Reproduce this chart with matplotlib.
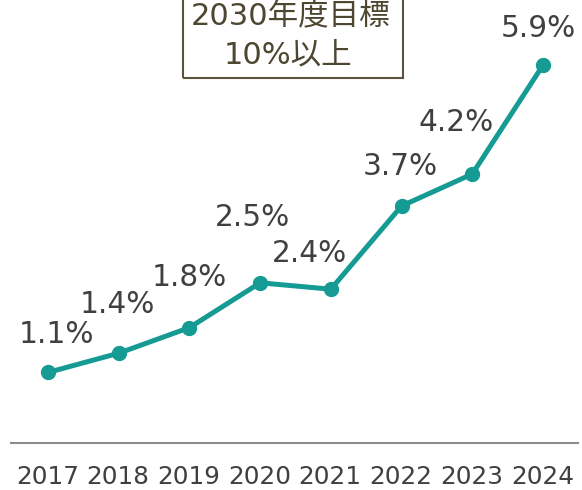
import matplotlib
matplotlib.use("Agg")
import matplotlib.pyplot as plt
from matplotlib.patches import Rectangle

# Data
years = ["2017", "2018", "2019", "2020", "2021", "2022", "2023", "2024"]
ratio = [1.1, 1.4, 1.8, 2.5, 2.4, 3.7, 4.2, 5.9]
value_labels = [f"{v:.1f}%" for v in ratio]
target_lines = ["2030年度目標", "10%以上"]

# Label offsets (points) relative to each marker
label_offsets = [(6.1, 20.9), (-1.1, 28.8), (0.0, 30.2), (-5.4, 41.0),
                 (-15.1, 19.4), (-0.7, 22.3), (-11.5, 31.0), (-3.2, 20.2)]

TEAL = "#169b94"
TEXT = "#404040"
OLIVE = "#5b5440"
OLIVE_TEXT = "#4d4630"

plt.rcParams["font.family"] = ["DejaVu Sans", "Noto Sans CJK JP"]

fig = plt.figure(figsize=(5.82, 4.90), dpi=100)
ax = fig.add_axes([0, 0, 1, 1])
ax.set_axis_off()

x = list(range(len(years)))
ax.plot(x, ratio, color=TEAL, lw=3.6, marker="o", markersize=10,
        solid_capstyle="round", solid_joinstyle="round", zorder=3)

ax.set_xlim(-0.679, 7.552)
ax.set_ylim(-0.7375, 6.919)

# Baseline
ax.axhline(0, xmin=11 / 582, xmax=578 / 582, color="#8c8c8c", lw=1.5, zorder=1)

# Value labels
for xi, yi, lab, (dx, dy) in zip(x, ratio, value_labels, label_offsets):
    ax.annotate(lab, (xi, yi), xytext=(dx, dy), textcoords="offset points",
                ha="center", va="baseline", fontsize=21.3, color=TEXT)

# Year labels under the baseline
for xi, yr in zip(x, years):
    ax.annotate(yr, (xi, 0), xytext=(-0.5, -30.0), textcoords="offset points",
                ha="center", va="baseline", fontsize=17.8, color=TEXT)

# Target box
box = Rectangle((183 / 582, 1 - 78 / 490), (403 - 183) / 582, 90 / 490,
                transform=ax.transAxes, fill=False, edgecolor=OLIVE, lw=1.5,
                zorder=4, clip_on=False)
ax.add_patch(box)
ax.text(291 / 582, 1 - 16 / 490, target_lines[0], transform=ax.transAxes,
        ha="center", va="center", fontsize=22, color=OLIVE_TEXT)
ax.text(288 / 582, 1 - 55 / 490, target_lines[1], transform=ax.transAxes,
        ha="center", va="center", fontsize=22, color=OLIVE_TEXT)

fig.savefig("out.png", dpi=100)
